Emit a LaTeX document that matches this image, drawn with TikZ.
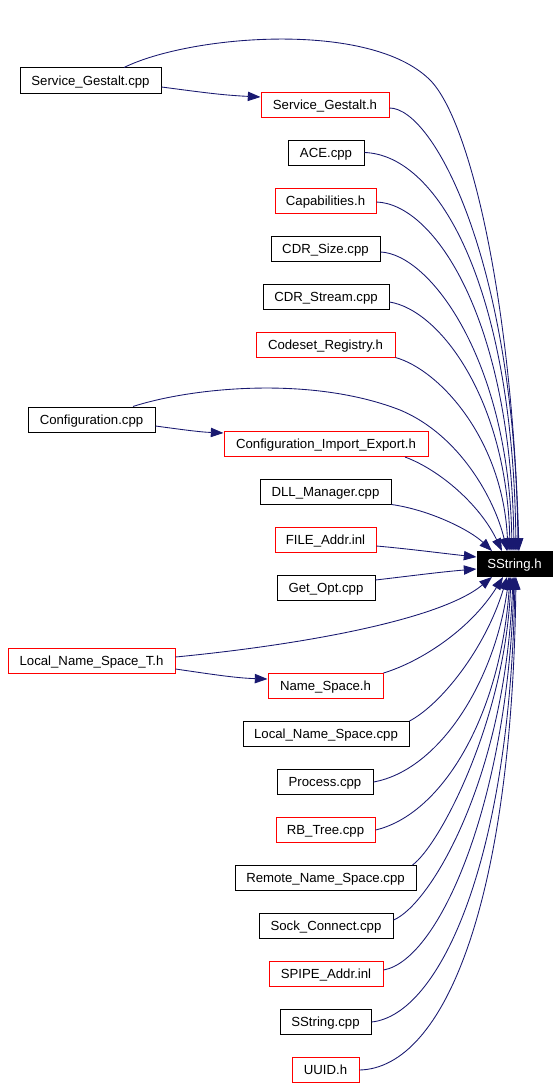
\documentclass[tikz,border=0pt]{standalone}
\usepackage{fontspec}
\setmainfont{Liberation Sans}
\usetikzlibrary{arrows.meta,calc}
\definecolor{edgeblue}{HTML}{191970}
\definecolor{hred}{HTML}{FF0000}
\begin{document}
\begin{tikzpicture}[x=0.75pt,y=-0.75pt,
 filebox/.style={draw=black,line width=0.75pt,minimum width=#1*0.75pt,minimum height=25*0.75pt,inner sep=0pt,text height=9.3pt,text depth=2.5pt,font=\fontsize{9.9}{12}\selectfont,fill=white},
 redbox/.style={filebox=#1,draw=hred},
 rootbox/.style={filebox=#1,fill=black,text=white},
 dep/.style={draw=edgeblue,line width=0.65pt,-{Triangle[length=9.5pt,width=7pt]}}]
\useasboundingbox (0,0) rectangle (560,1088);
% nodes
\node[filebox=141] (sgcpp) at (90.5,80.5) {Service\_Gestalt.cpp};
\node[redbox=128] (sgh) at (325,104.5) {Service\_Gestalt.h};
\node[filebox=76] (ace) at (326,152.5) {ACE.cpp};
\node[redbox=101] (cap) at (325.5,200.5) {Capabilities.h};
\node[filebox=109] (cdrsize) at (325.5,248.5) {CDR\_Size.cpp};
\node[filebox=126] (cdrstream) at (326,297) {CDR\_Stream.cpp};
\node[redbox=139] (codeset) at (325.5,344.5) {Codeset\_Registry.h};
\node[filebox=127] (confcpp) at (91.5,419.5) {Configuration.cpp};
\node[redbox=204] (confie) at (326,444) {Configuration\_Import\_Export.h};
\node[filebox=131] (dll) at (325.5,491.5) {DLL\_Manager.cpp};
\node[redbox=101] (fileaddr) at (325.5,539.5) {FILE\_Addr.inl};
\node[rootbox=75] (ss) at (514.5,564) {SString.h};
\node[filebox=98] (getopt) at (326,587.5) {Get\_Opt.cpp};
\node[redbox=167] (lnst) at (91.5,660.5) {Local\_Name\_Space\_T.h};
\node[redbox=115] (ns) at (325.5,686) {Name\_Space.h};
\node[filebox=166] (lnscpp) at (326,734) {Local\_Name\_Space.cpp};
\node[filebox=96] (process) at (325,782) {Process.cpp};
\node[redbox=99] (rbtree) at (325.5,830) {RB\_Tree.cpp};
\node[filebox=181] (rnscpp) at (325.5,878) {Remote\_Name\_Space.cpp};
\node[filebox=134] (sock) at (326,926) {Sock\_Connect.cpp};
\node[redbox=114] (spipe) at (326,974) {SPIPE\_Addr.inl};
\node[filebox=91] (sscpp) at (325.5,1022) {SString.cpp};
\node[redbox=67] (uuid) at (325.5,1070) {UUID.h};
% edges, top group
\draw[dep] ($(sgcpp.east)+(0,6.5)$) .. controls (200,92) and (220,95) .. ($(sgh.west)+(0,-7.5)$);
\draw[dep] ($(sgcpp.north)+(33.5,0)$) .. controls (190,35) and (370,20) .. (430,80) .. controls (470,120) and (512,300) .. ($(ss.north)+(4.5,0)$);
\draw[dep] ($(sgh.east)+(0,3.5)$) .. controls (434,108) and (515,263) .. ($(ss.north)+(3.5,0)$);
\draw[dep] (ace.east) .. controls (440,155) and (513,290) .. ($(ss.north)+(1.5,0)$);
\draw[dep] ($(cap.east)+(0,1.5)$) .. controls (435,204) and (511,320) .. ($(ss.north)+(-0.5,0)$);
\draw[dep] ($(cdrsize.east)+(0,3.5)$) .. controls (430,254) and (509,360) .. ($(ss.north)+(-2.5,0)$);
\draw[dep] ($(cdrstream.east)+(0,5)$) .. controls (440,310) and (507,400) .. ($(ss.north)+(-4.5,0)$);
\draw[dep] (codeset.south east) .. controls (440,370) and (503,440) .. ($(ss.north)+(-6.5,0)$);
\draw[dep] ($(confcpp.north)+(41.5,0)$) .. controls (190,388) and (310,375) .. (400,410) .. controls (460,435) and (495,500) .. ($(ss.north)+(-7.5,0)$);
\draw[dep] ($(confcpp.east)+(0,6.5)$) .. controls (185,430) and (200,432) .. ($(confie.west)+(0,-11)$);
\draw[dep] ($(confie.south)+(79,0)$) .. controls (440,470) and (480,505) .. ($(ss.north)+(-12.5,0)$);
\draw[dep] (dll.south east) .. controls (430,510) and (470,530) .. ($(ss.north)+(-22.5,0)$);
% left side
\draw[dep] ($(fileaddr.east)+(0,6.5)$) .. controls (410,549) and (440,553) .. ($(ss.west)+(0,-7)$);
\draw[dep] ($(getopt.east)+(0,-7.5)$) .. controls (410,576) and (440,572) .. ($(ss.west)+(0,5)$);
% bottom group
\draw[dep] ($(lnst.east)+(0,8.5)$) .. controls (210,674) and (235,678) .. ($(ns.west)+(0,-7)$);
\draw[dep] ($(lnst.east)+(0,-3.5)$) .. controls (300,645) and (440,620) .. ($(ss.south)+(-22.5,0)$);
\draw[dep] (ns.north east) .. controls (420,662) and (470,630) .. ($(ss.south)+(-11.5,0)$);
\draw[dep] (lnscpp.north east) .. controls (440,705) and (485,650) .. ($(ss.south)+(-7.5,0)$);
\draw[dep] (process.east) .. controls (440,770) and (495,680) .. ($(ss.south)+(-5.5,0)$);
\draw[dep] (rbtree.east) .. controls (440,815) and (500,720) .. ($(ss.south)+(-4.5,0)$);
\draw[dep] ($(rnscpp.north east)+(-4,0)$) .. controls (440,845) and (505,720) .. ($(ss.south)+(-3.5,0)$);
\draw[dep] ($(sock.east)+(0,-6)$) .. controls (430,905) and (505,780) .. ($(ss.south)+(-1.5,0)$);
\draw[dep] ($(spipe.east)+(0,-4)$) .. controls (440,960) and (508,800) .. ($(ss.south)+(-0.5,0)$);
\draw[dep] (sscpp.east) .. controls (440,1015) and (510,860) .. ($(ss.south)+(0.5,0)$);
\draw[dep] (uuid.east) .. controls (445,1068) and (512,900) .. ($(ss.south)+(1.5,0)$);
\end{tikzpicture}
\end{document}
